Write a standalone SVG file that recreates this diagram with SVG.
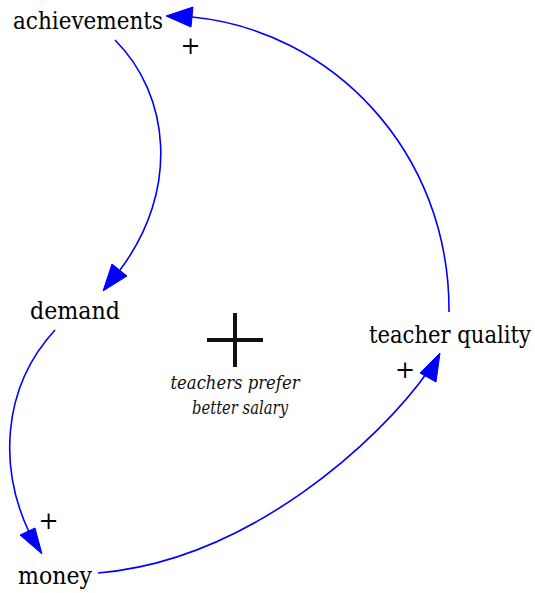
<svg xmlns="http://www.w3.org/2000/svg" width="535" height="593" viewBox="0 0 535 593">
<style>
.lbl{font-family:'DejaVu Serif',serif;font-size:25px;fill:#000;text-anchor:middle}
.pol{font-family:'DejaVu Serif',serif;font-size:24px;fill:#000;text-anchor:middle}
.edge{fill:none;stroke:#0000ff;stroke-width:1.6}
.head{fill:#0000ff;stroke:#0000ff;stroke-width:1}
.note{font-family:'DejaVu Serif',serif;font-style:italic;font-size:19px;fill:#111;text-anchor:middle}
</style>
<rect width="535" height="593" fill="#fff"/>
<g id="connectors">
<path class="edge" d="M115,40 C170,95 180,190 120,270"/>
<polygon class="head" points="103,291 112,264 127,276"/>
<path class="edge" d="M55,330 C0,390 0,470 29,532"/>
<polygon class="head" points="42,554 20,535 35,528"/>
<path class="edge" d="M98,573 C250,560 380,440 429,370"/>
<polygon class="head" points="440,353 420,373 436,382"/>
<path class="edge" d="M449,312 C450,150 330,30 192,17"/>
<polygon class="head" points="166,16 193,7 191,27"/>
<text class="pol" x="190.5" y="54">+</text>
<text class="pol" x="405" y="378">+</text>
<text class="pol" x="48.5" y="529">+</text>
</g>
<g id="achievements"><text class="lbl" x="88" y="29" textLength="150" lengthAdjust="spacingAndGlyphs">achievements</text></g>
<g id="demand"><text class="lbl" x="75" y="319" textLength="90" lengthAdjust="spacingAndGlyphs">demand</text></g>
<g id="teacher_quality"><text class="lbl" x="450" y="343" textLength="162" lengthAdjust="spacingAndGlyphs">teacher quality</text></g>
<g id="money"><text class="lbl" x="55" y="584" textLength="74" lengthAdjust="spacingAndGlyphs">money</text></g>
<g id="loop">
<path d="M207,340 H263 M235,313 V367" stroke="#111" stroke-width="4" fill="none"/>
<text class="note" x="235" y="389" textLength="129" lengthAdjust="spacingAndGlyphs">teachers prefer</text>
<text class="note" x="240" y="414" textLength="96" lengthAdjust="spacingAndGlyphs">better salary</text>
</g>
</svg>
